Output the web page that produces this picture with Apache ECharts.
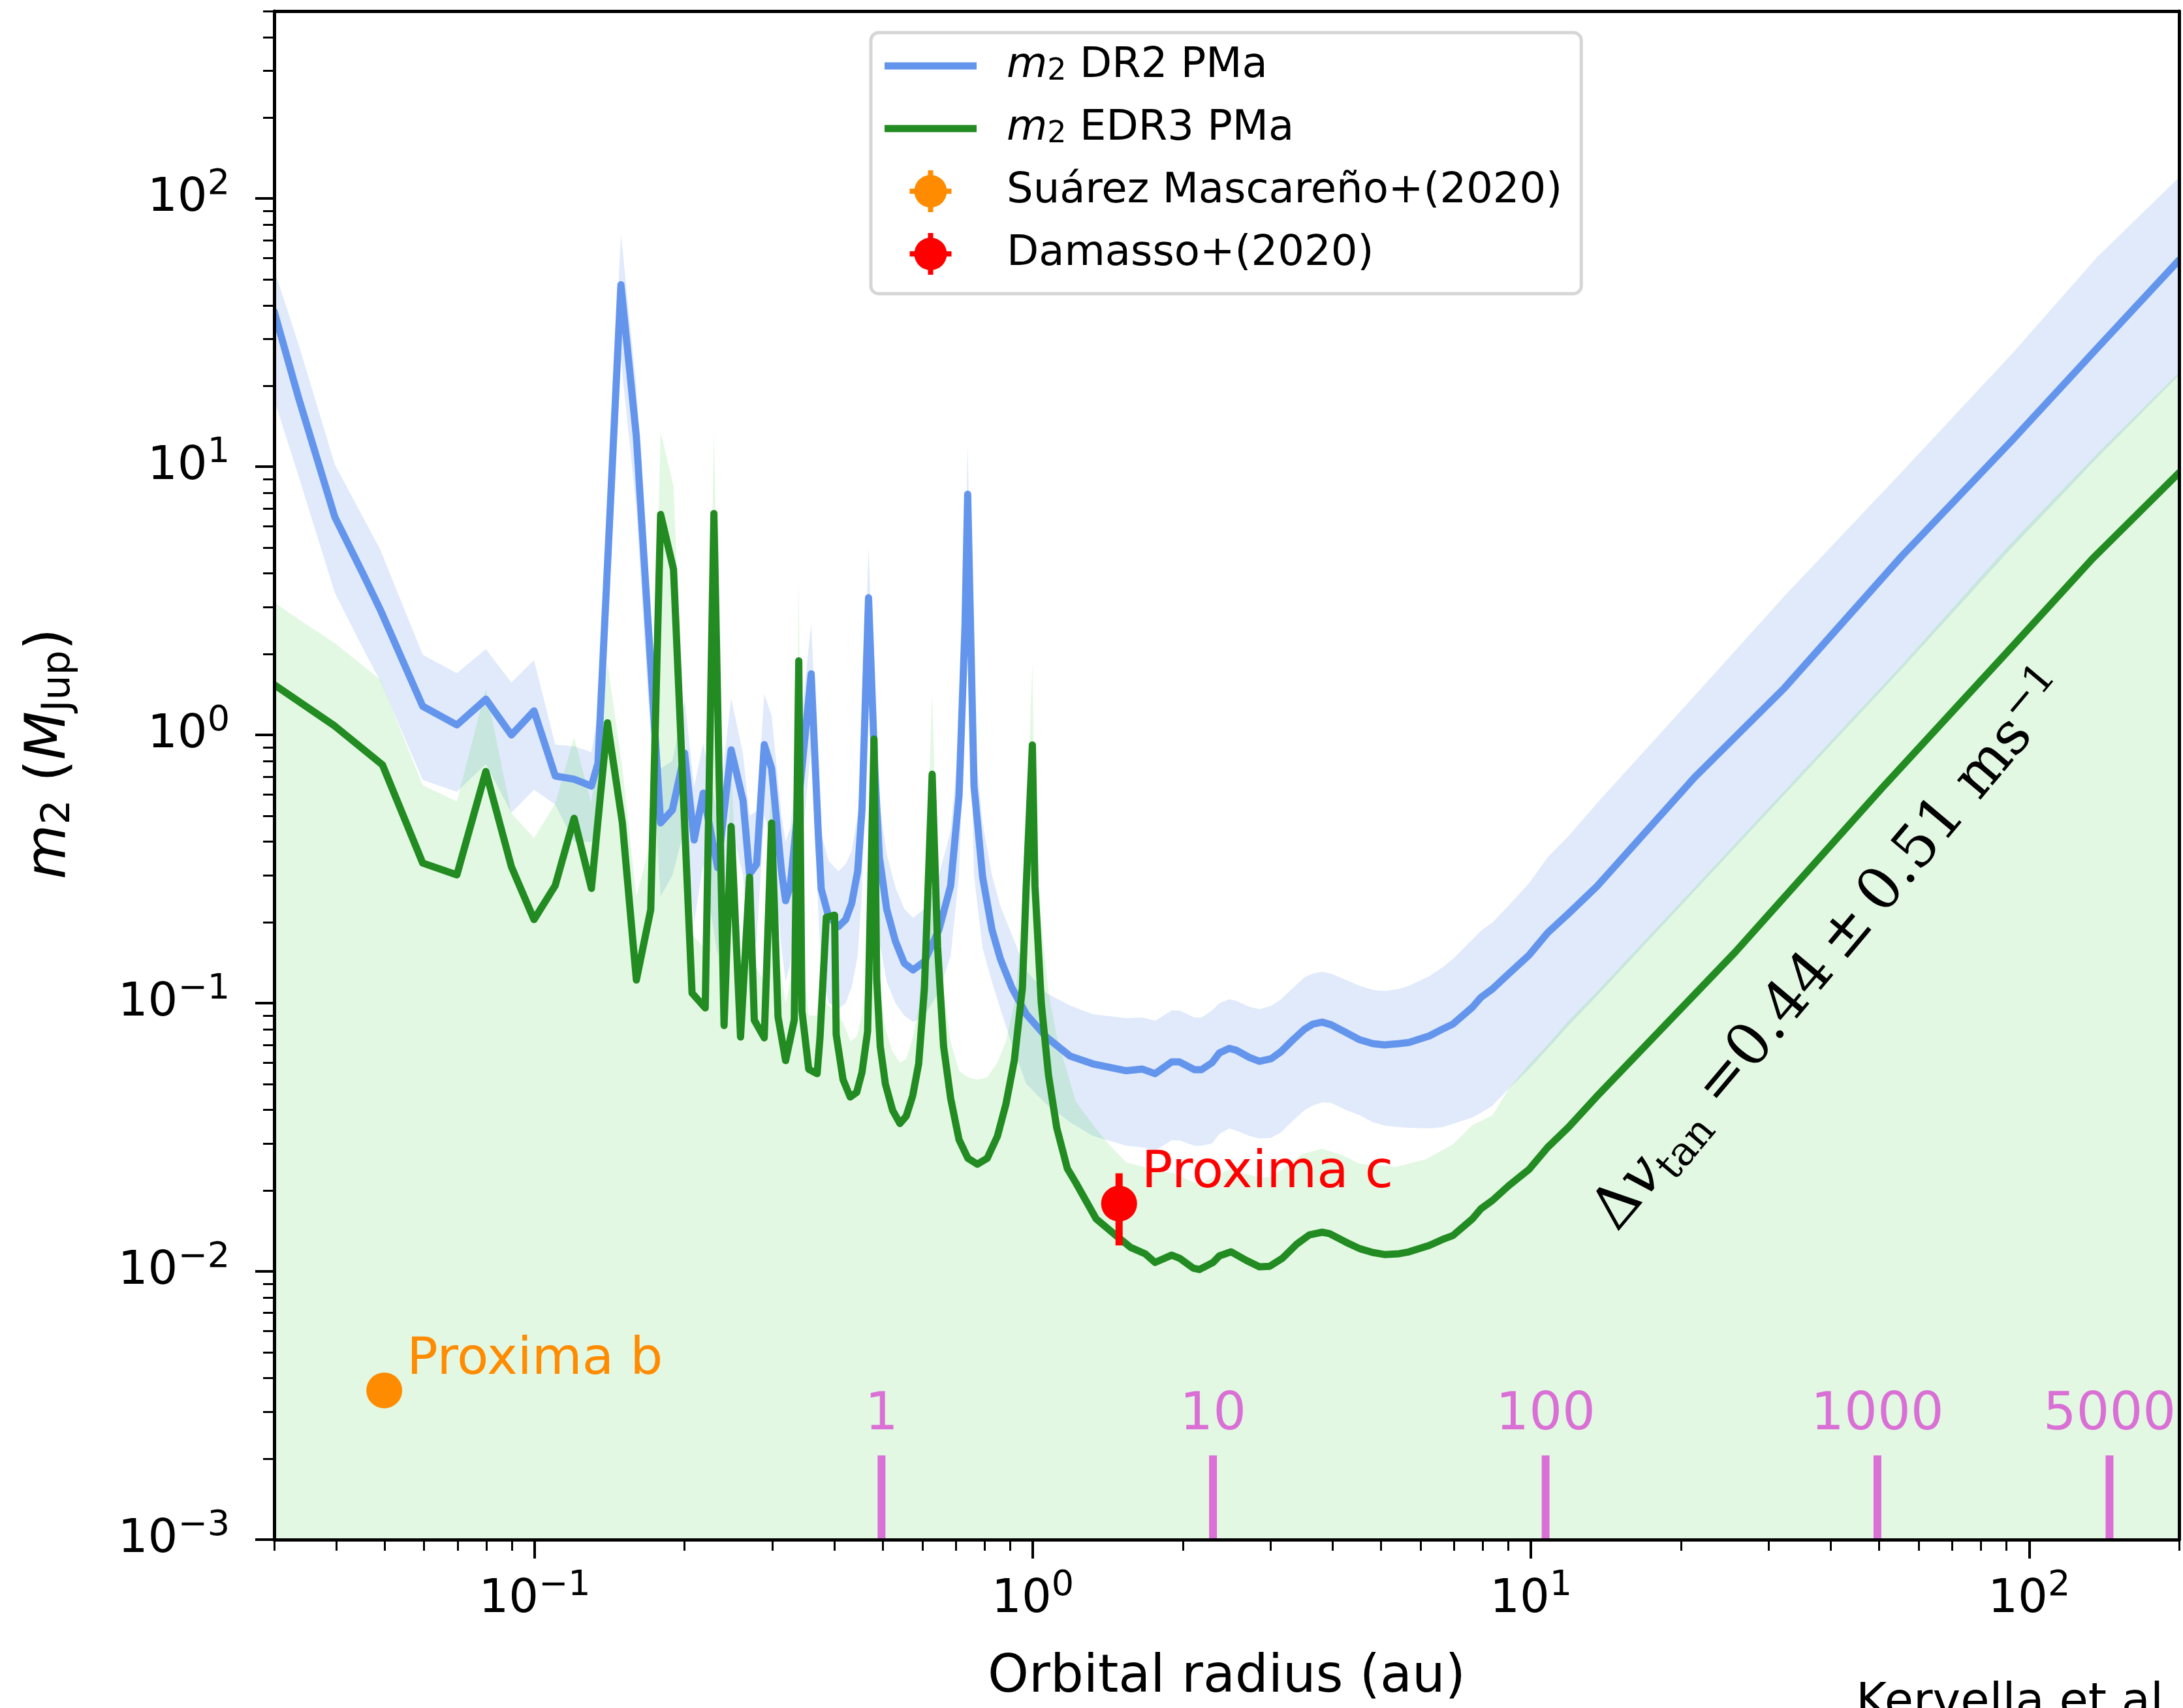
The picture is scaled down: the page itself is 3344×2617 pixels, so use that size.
<!DOCTYPE html>
<html>
<head>
<meta charset="utf-8">
<title>Companion mass sensitivity vs orbital radius</title>
<script src="https://cdn.jsdelivr.net/npm/echarts@6.0.0/dist/echarts.min.js"></script>
<style>
  html, body { margin: 0; padding: 0; background: #ffffff; }
  #chart { width: 3344px; height: 2617px; }
</style>
</head>
<body>
<div id="chart"></div>
<script>
// Gaia PMa companion mass sensitivity (radius in au, mass in M_Jup)

// DR2 PMa curve and its uncertainty band
const dr2Radius = [
  0.030, 0.0336, 0.0397, 0.0455, 0.049, 0.0596, 0.0698, 0.0798, 0.0898, 0.0997,
  0.110, 0.120, 0.130, 0.134, 0.149, 0.160, 0.179, 0.189, 0.200, 0.209,
  0.218, 0.233, 0.248, 0.262, 0.270, 0.279, 0.289, 0.299, 0.313, 0.319,
  0.326, 0.359, 0.371, 0.376, 0.389, 0.407, 0.421, 0.433, 0.445, 0.454,
  0.468, 0.482, 0.492, 0.509, 0.530, 0.552, 0.575, 0.606, 0.648, 0.684,
  0.711, 0.731, 0.740, 0.762, 0.793, 0.828, 0.861, 0.908, 0.970, 1.065,
  1.188, 1.32, 1.54, 1.66, 1.76, 1.90, 1.97, 2.11, 2.18, 2.29,
  2.37, 2.48, 2.56, 2.72, 2.85, 3.01, 3.15, 3.33, 3.51, 3.65,
  3.81, 3.97, 4.25, 4.53, 4.81, 5.08, 5.44, 5.69, 6.25, 6.64,
  6.97, 7.63, 7.93, 8.37, 9.03, 9.91, 10.8, 11.9, 13.6, 21.3,
  32.3, 55.6, 91.9, 137, 200
];
const dr2Mass = [
  37.9, 18.0, 6.5, 3.9, 2.93, 1.28, 1.09, 1.36, 1.0, 1.23,
  0.703, 0.684, 0.645, 0.785, 47.7, 13.0, 0.47, 0.525, 0.855, 0.406,
  0.607, 0.32, 0.88, 0.57, 0.303, 0.33, 0.92, 0.75, 0.31, 0.241,
  0.274, 1.69, 0.43, 0.267, 0.211, 0.193, 0.205, 0.236, 0.31, 0.525,
  3.25, 0.73, 0.35, 0.224, 0.17, 0.141, 0.133, 0.143, 0.188, 0.274,
  0.594, 2.57, 7.9, 0.645, 0.295, 0.188, 0.146, 0.114, 0.091, 0.0747,
  0.0635, 0.0594, 0.056, 0.0568, 0.0546, 0.0604, 0.0604, 0.0565, 0.0565, 0.060,
  0.0653, 0.0679, 0.0668, 0.0628, 0.0607, 0.0621, 0.066, 0.0731, 0.080, 0.0836,
  0.085, 0.0831, 0.0778, 0.0731, 0.0707, 0.0699, 0.0707, 0.0714, 0.0755, 0.080,
  0.0836, 0.0966, 0.105, 0.113, 0.129, 0.151, 0.183, 0.216, 0.274, 0.695,
  1.50, 4.66, 12.4, 27.7, 59
];
const dr2Upper = [
  54.3, 28.5, 10.2, 6.35, 4.91, 1.99, 1.70, 2.09, 1.57, 1.90,
  0.92, 0.907, 0.863, 1.2, 74, 20, 0.75, 0.8, 1.35, 0.64,
  0.93, 0.5, 1.37, 0.85, 0.5, 0.52, 1.42, 1.18, 0.5, 0.4,
  0.45, 2.62, 0.7, 0.43, 0.34, 0.31, 0.33, 0.37, 0.5, 0.85,
  5.03, 1.15, 0.56, 0.36, 0.27, 0.225, 0.208, 0.225, 0.3, 0.44,
  0.95, 4.0, 12.2, 1.0, 0.47, 0.3, 0.23, 0.18, 0.132, 0.109,
  0.098, 0.091, 0.088, 0.0885, 0.086, 0.094, 0.094, 0.0885, 0.0885, 0.094,
  0.100, 0.1035, 0.102, 0.097, 0.095, 0.0977, 0.1035, 0.114, 0.125, 0.129,
  0.131, 0.129, 0.122, 0.116, 0.112, 0.111, 0.113, 0.116, 0.126, 0.136,
  0.146, 0.173, 0.186, 0.20, 0.232, 0.28, 0.35, 0.42, 0.56, 1.4,
  3.3, 9.6, 26.1, 60.6, 120
];
const dr2Lower = [
  17.8, 9.2, 3.39, 2.06, 1.59, 0.68, 0.614, 0.78, 0.513, 0.625,
  0.55, 0.40, 0.40, 0.45, 25, 7, 0.25, 0.3, 0.45, 0.2,
  0.33, 0.15, 0.45, 0.3, 0.15, 0.17, 0.5, 0.4, 0.16, 0.12,
  0.14, 0.9, 0.22, 0.13, 0.1, 0.095, 0.1, 0.115, 0.15, 0.26,
  1.7, 0.38, 0.17, 0.12, 0.1, 0.09, 0.085, 0.09, 0.11, 0.15,
  0.3, 1.3, 4.0, 0.3, 0.16, 0.12, 0.095, 0.07, 0.05, 0.042,
  0.036, 0.032, 0.0294, 0.029, 0.0282, 0.0308, 0.0308, 0.0294, 0.0294, 0.030,
  0.0326, 0.0341, 0.0335, 0.032, 0.0313, 0.0315, 0.033, 0.0365, 0.0399, 0.0415,
  0.0427, 0.0425, 0.040, 0.0382, 0.036, 0.035, 0.0345, 0.0343, 0.0341, 0.0345,
  0.0355, 0.0375, 0.039, 0.0415, 0.048, 0.0568, 0.0676, 0.0826, 0.107, 0.262,
  0.60, 1.77, 4.95, 10.8, 22
];

// EDR3 PMa curve
const edr3Radius = [
  0.030, 0.0397, 0.0495, 0.0596, 0.0698, 0.0798, 0.0898, 0.0997, 0.110, 0.120,
  0.130, 0.140, 0.150, 0.160, 0.171, 0.179, 0.190, 0.202, 0.207, 0.220,
  0.229, 0.240, 0.248, 0.259, 0.270, 0.276, 0.289, 0.299, 0.308, 0.319,
  0.332, 0.339, 0.344, 0.355, 0.369, 0.374, 0.385, 0.400, 0.403, 0.416,
  0.430, 0.443, 0.454, 0.466, 0.480, 0.486, 0.494, 0.506, 0.523, 0.541,
  0.557, 0.574, 0.590, 0.606, 0.628, 0.644, 0.662, 0.684, 0.711, 0.741,
  0.774, 0.810, 0.849, 0.883, 0.918, 0.953, 0.970, 0.998, 1.01, 1.04,
  1.075, 1.117, 1.173, 1.22, 1.34, 1.47, 1.57, 1.68, 1.76, 1.90,
  1.97, 2.10, 2.16, 2.30, 2.37, 2.50, 2.68, 2.85, 2.99, 3.17,
  3.38, 3.59, 3.81, 3.94, 4.25, 4.53, 4.81, 5.08, 5.44, 5.69,
  6.25, 6.64, 6.97, 7.63, 7.93, 8.37, 9.03, 9.91, 10.8, 11.9,
  13.6, 25.7, 50.7, 90.2, 134, 200
];
const edr3Mass = [
  1.54, 1.08, 0.773, 0.333, 0.301, 0.731, 0.323, 0.205, 0.275, 0.489,
  0.268, 1.11, 0.47, 0.122, 0.223, 6.64, 4.15, 0.305, 0.109, 0.096,
  6.7, 0.0826, 0.456, 0.0748, 0.295, 0.0865, 0.0743, 0.47, 0.0889, 0.0611,
  0.0865, 1.89, 0.0935, 0.0567, 0.0546, 0.0748, 0.209, 0.213, 0.0764, 0.0519,
  0.0447, 0.0465, 0.0552, 0.0785, 0.966, 0.123, 0.069, 0.0499, 0.0399, 0.0356,
  0.0379, 0.0452, 0.0594, 0.114, 0.714, 0.162, 0.069, 0.0442, 0.031, 0.0264,
  0.0251, 0.0264, 0.0319, 0.042, 0.0611, 0.114, 0.274, 0.918, 0.274, 0.100,
  0.054, 0.0343, 0.0242, 0.0214, 0.0157, 0.0136, 0.0123, 0.01164, 0.0108, 0.0115,
  0.0112, 0.01028, 0.01016, 0.0108, 0.01143, 0.01183, 0.011, 0.0104, 0.01045, 0.0112,
  0.0126, 0.01368, 0.014, 0.01384, 0.01286, 0.01216, 0.01177, 0.01156, 0.01164, 0.01183,
  0.0125, 0.01315, 0.0136, 0.0157, 0.0171, 0.0184, 0.0209, 0.024, 0.029, 0.0345,
  0.0452, 0.155, 0.635, 2.03, 4.54, 9.5
];

// EDR3 band: filled from the bottom of the plot up to this upper bound
const edr3BandRadius = [
  0.030, 0.0336, 0.0397, 0.049, 0.0596, 0.0698, 0.0798, 0.0898, 0.0997, 0.110,
  0.120, 0.130, 0.140, 0.150, 0.160, 0.171, 0.179, 0.190, 0.202, 0.207,
  0.220, 0.229, 0.240, 0.248, 0.259, 0.270, 0.276, 0.289, 0.299, 0.308,
  0.319, 0.332, 0.339, 0.344, 0.355, 0.369, 0.374, 0.385, 0.400, 0.416,
  0.430, 0.443, 0.454, 0.466, 0.480, 0.486, 0.494, 0.506, 0.523, 0.541,
  0.557, 0.574, 0.590, 0.606, 0.628, 0.644, 0.662, 0.684, 0.711, 0.741,
  0.774, 0.810, 0.849, 0.883, 0.918, 0.953, 0.970, 0.998, 1.01, 1.04,
  1.075, 1.117, 1.173, 1.22, 1.34, 1.43, 1.54, 1.76, 1.92, 2.10,
  2.18, 2.30, 2.48, 2.85, 2.99, 3.17, 3.48, 3.81, 4.18, 4.53,
  5.35, 6.15, 6.97, 7.63, 8.37, 9.03, 9.91, 10.8, 11.9, 13.6,
  21.3, 34.8, 55.6, 90.2, 137, 200
];
const edr3BandUpper = [
  3.12, 2.70, 2.20, 1.61, 0.65, 0.565, 1.49, 0.51, 0.413, 0.556,
  0.98, 0.556, 1.86, 0.75, 0.25, 0.4, 13.5, 8.45, 0.5, 0.18,
  0.16, 13.8, 0.14, 0.75, 0.13, 0.48, 0.14, 0.12, 0.75, 0.15,
  0.1, 0.14, 3.81, 0.15, 0.09, 0.09, 0.12, 0.1, 0.093, 0.085,
  0.072, 0.075, 0.09, 0.13, 1.6, 0.2, 0.11, 0.08, 0.066, 0.06,
  0.062, 0.074, 0.097, 0.19, 1.44, 0.27, 0.11, 0.072, 0.056, 0.053,
  0.0519, 0.053, 0.06, 0.072, 0.1, 0.19, 0.45, 1.86, 0.45, 0.2,
  0.11, 0.075, 0.055, 0.043, 0.034, 0.0294, 0.0255, 0.0239, 0.0232, 0.0215,
  0.0213, 0.0224, 0.024, 0.0224, 0.0224, 0.024, 0.0274, 0.0287, 0.0271, 0.0252,
  0.0245, 0.0262, 0.0298, 0.0351, 0.0382, 0.048, 0.059, 0.07, 0.086, 0.111,
  0.27, 0.72, 1.83, 5.0, 11.2, 22.5
];

// known planets
const planetNames = ['Proxima b', 'Proxima c'];
const planetRefs = ['Suárez Mascareño+(2020)', 'Damasso+(2020)'];
const planetRadius = [0.0499, 1.49];
const planetMass = [0.0036, 0.0179];
const planetMassLo = [0.0035, 0.0125];
const planetMassHi = [0.0037, 0.0232];

// orbital period markers (years) and their radius
const periodLabels = ['1', '10', '100', '1000', '5000'];
const periodRadius = [0.497, 2.30, 10.7, 49.6, 145];

// decade tick exponents
const xMajorExp = [-1, 0, 1, 2];
const yMajorExp = [-3, -2, -1, 0, 1, 2];

const lg = Math.log10;
const FONT = 'DejaVu Sans';
const BLUE = '#6495ED';
const GREEN = '#228B22';
const PLANET_COLORS = ['#FF8C00', '#FF0000'];
const ORCHID = '#DA70D6';
const LINE_W = 11;

// legend handles: flat bar for the curves, dot with error-bar stubs for the planets
const BAR_ICON = 'path://M0,0H141V11H0Z';
const DOT_ICON = 'path://M7,32A25,25,0,1,1,57,32A25,25,0,1,1,7,32Z' +
  'M0,28H8V36H0Z M56,28H64V36H56Z M28,0H36V8H28Z M28,56H36V64H28Z';

const xMin = lg(0.03), xMax = lg(200);
const yMin = -3, yMax = lg(500);

function minorTicks(lo, hi) {
  const out = [];
  for (let e = Math.floor(lo); e <= Math.ceil(hi); e++) {
    for (let k = 2; k <= 9; k++) {
      const v = e + lg(k);
      if (v >= lo - 1e-9 && v <= hi + 1e-9) out.push(v);
    }
  }
  return out;
}

const pairs = (xs, ys) => xs.map((x, i) => [lg(x), lg(ys[i])]);
const powLabel = v => '{b|10}{s|' + String(Math.round(v)).replace('-', '\u2212') + '}';

const tickRich = {
  b: { fontFamily: FONT, fontSize: 72, lineHeight: 96, color: '#000' },
  s: { fontFamily: FONT, fontSize: 54, lineHeight: 54, verticalAlign: 'top', color: '#000' }
};
const frameLine = { show: true, onZero: false, lineStyle: { color: '#000', width: 5 } };
const noLine = { show: false, onZero: false };

// curve drawn through the axes' own coordinate mapping
function curveSeries(name, xs, ys, color) {
  return {
    name, type: 'custom', z: 3, silent: true, clip: true,
    data: [[lg(xs[0]), lg(ys[0])]],
    renderItem: (params, api) => ({
      type: 'polyline',
      shape: { points: xs.map((x, i) => api.coord([lg(x), lg(ys[i])])) },
      style: { stroke: color, lineWidth: LINE_W, fill: null, lineJoin: 'round', lineCap: 'round' }
    })
  };
}

const chart = echarts.init(document.getElementById('chart'));

const option = {
  animation: false,
  backgroundColor: '#ffffff',
  grid: { left: 420, right: 6, top: 17, bottom: 258, containLabel: false },
  legend: {
    left: 1334,
    top: 50,
    orient: 'vertical',
    selectedMode: false,
    itemWidth: 141,
    itemHeight: 64,
    itemGap: 32,
    padding: [19, 29, 29, 21],
    backgroundColor: '#ffffff',
    borderColor: '#d6d6d6',
    borderWidth: 5,
    borderRadius: 12,
    data: [
      { name: 'DR2', icon: BAR_ICON, itemStyle: { color: BLUE } },
      { name: 'EDR3', icon: BAR_ICON, itemStyle: { color: GREEN } },
      { name: planetRefs[0], icon: DOT_ICON },
      { name: planetRefs[1], icon: DOT_ICON }
    ],
    formatter: name => {
      if (name === 'DR2') return '{i|m}{s|2} DR2 PMa';
      if (name === 'EDR3') return '{i|m}{s|2} EDR3 PMa';
      return name;
    },
    textStyle: {
      fontFamily: FONT, fontSize: 64, lineHeight: 64, color: '#000',
      padding: [0, 0, 0, 41],
      rich: {
        i: { fontFamily: FONT, fontSize: 64, lineHeight: 64, fontStyle: 'italic', color: '#000' },
        s: { fontFamily: FONT, fontSize: 46, lineHeight: 28, verticalAlign: 'bottom', color: '#000' }
      }
    }
  },
  xAxis: [
    {
      type: 'value', min: xMin, max: xMax, position: 'bottom', z: 10,
      axisLine: frameLine,
      axisTick: { show: true, customValues: xMajorExp, length: 29, lineStyle: { color: '#000', width: 4 } },
      axisLabel: { show: true, customValues: xMajorExp, margin: 44, formatter: powLabel, rich: tickRich },
      splitLine: { show: false },
      name: 'Orbital radius (au)',
      nameLocation: 'middle',
      nameGap: 172,
      nameTextStyle: { fontFamily: FONT, fontSize: 80, color: '#000' }
    },
    {
      type: 'value', min: xMin, max: xMax, position: 'bottom', z: 10,
      axisLine: noLine,
      axisTick: { show: true, customValues: minorTicks(xMin, xMax), length: 17, lineStyle: { color: '#000', width: 3 } },
      axisLabel: { show: false },
      splitLine: { show: false }
    },
    {
      type: 'value', min: xMin, max: xMax, position: 'top', z: 10,
      axisLine: frameLine, axisTick: { show: false }, axisLabel: { show: false }, splitLine: { show: false }
    }
  ],
  yAxis: [
    {
      type: 'value', min: yMin, max: yMax, position: 'left', z: 10,
      axisLine: frameLine,
      axisTick: { show: true, customValues: yMajorExp, length: 29, lineStyle: { color: '#000', width: 4 } },
      axisLabel: { show: true, customValues: yMajorExp, margin: 68, formatter: powLabel, rich: tickRich },
      splitLine: { show: false },
      name: '{i|m}{s|2}{n| (}{i|M}{s|Jup}{n|)}',
      nameLocation: 'middle',
      nameRotate: 90,
      nameGap: 300,
      nameTextStyle: {
        fontFamily: FONT, fontSize: 86, color: '#000',
        padding: [0, 0, 0, 66],
        rich: {
          i: { fontFamily: FONT, fontSize: 86, lineHeight: 86, fontStyle: 'italic', color: '#000' },
          n: { fontFamily: FONT, fontSize: 86, lineHeight: 86, color: '#000' },
          s: { fontFamily: FONT, fontSize: 60, lineHeight: 38, verticalAlign: 'bottom', color: '#000' }
        }
      }
    },
    {
      type: 'value', min: yMin, max: yMax, position: 'left', z: 10,
      axisLine: noLine,
      axisTick: { show: true, customValues: minorTicks(yMin, yMax), length: 17, lineStyle: { color: '#000', width: 3 } },
      axisLabel: { show: false },
      splitLine: { show: false }
    },
    {
      type: 'value', min: yMin, max: yMax, position: 'right', z: 10,
      axisLine: frameLine, axisTick: { show: false }, axisLabel: { show: false }, splitLine: { show: false }
    }
  ],
  series: [
    {
      name: 'DR2 band', type: 'custom', z: 1, silent: true, clip: true,
      data: [[lg(dr2Radius[0]), lg(dr2Mass[0])]],
      renderItem: (params, api) => {
        const top = dr2Radius.map((r, i) => api.coord([lg(r), lg(dr2Upper[i])]));
        const bottom = dr2Radius.map((r, i) => api.coord([lg(r), lg(dr2Lower[i])])).reverse();
        return {
          type: 'polygon',
          shape: { points: top.concat(bottom) },
          style: { fill: 'rgba(100,149,237,0.2)' }
        };
      }
    },
    {
      name: 'EDR3 band', type: 'line', z: 2, silent: true, clip: true,
      data: pairs(edr3BandRadius, edr3BandUpper),
      showSymbol: false, symbol: 'none',
      lineStyle: { width: 0 },
      areaStyle: { color: 'rgba(50,205,50,0.2)', origin: 'start' }
    },
    curveSeries('DR2', dr2Radius, dr2Mass, BLUE),
    curveSeries('EDR3', edr3Radius, edr3Mass, GREEN),
    {
      name: 'error bars', type: 'custom', z: 4, silent: true,
      data: planetRadius.map((r, i) => [lg(r), lg(planetMassLo[i]), lg(planetMassHi[i]), i]),
      renderItem: (params, api) => {
        const a = api.coord([api.value(0), api.value(1)]);
        const b = api.coord([api.value(0), api.value(2)]);
        return {
          type: 'line',
          shape: { x1: a[0], y1: a[1], x2: b[0], y2: b[1] },
          style: { stroke: PLANET_COLORS[api.value(3)], lineWidth: 11 }
        };
      }
    },
    ...planetRefs.map((ref, i) => ({
      name: ref, type: 'scatter', z: 5, silent: true,
      data: [[lg(planetRadius[i]), lg(planetMass[i])]],
      symbol: 'circle', symbolSize: 55,
      itemStyle: { color: PLANET_COLORS[i], opacity: 1 },
      label: {
        show: true, position: 'right', distance: 7, offset: [0, -46],
        formatter: planetNames[i],
        color: PLANET_COLORS[i], fontFamily: FONT, fontSize: 79
      }
    })),
    {
      name: 'periods', type: 'custom', z: 6, silent: true, clip: false,
      data: periodRadius.map((r, i) => [lg(r), yMin, i]),
      renderItem: (params, api) => {
        const p = api.coord([api.value(0), api.value(1)]);
        return {
          type: 'group',
          children: [
            { type: 'line', shape: { x1: p[0], y1: p[1], x2: p[0], y2: p[1] - 129 },
              style: { stroke: ORCHID, lineWidth: 12 } },
            { type: 'text', x: p[0], y: p[1] - 190,
              style: { text: periodLabels[api.value(2)], fill: ORCHID,
                       font: '80px "DejaVu Sans"', align: 'center', verticalAlign: 'middle' } }
          ]
        };
      }
    }
  ],
  graphic: [
    {
      type: 'text', x: 2808, y: 1458, rotation: 50 * Math.PI / 180, z: 20, silent: true,
      style: {
        text: '{d|\u0394}{v|v}{t|tan}{d| =0.44\u2009\u00b1\u20090.51 ms}{p|\u22121}',
        align: 'center', verticalAlign: 'middle',
        rich: {
          d: { fontFamily: 'DejaVu Serif', fontSize: 90, lineHeight: 110, fill: '#000' },
          v: { fontFamily: 'DejaVu Serif', fontSize: 90, lineHeight: 110, fontStyle: 'italic', fill: '#000' },
          t: { fontFamily: 'DejaVu Serif', fontSize: 62, lineHeight: 64, verticalAlign: 'bottom', fill: '#000' },
          p: { fontFamily: 'DejaVu Serif', fontSize: 62, lineHeight: 62, verticalAlign: 'top', fill: '#000' }
        }
      }
    },
    {
      type: 'text', x: 2843, y: 2574, z: 20, silent: true,
      style: { text: 'Kervella et al', font: '72px "DejaVu Sans"', fill: '#000', align: 'left', verticalAlign: 'top' }
    }
  ]
};

chart.setOption(option);
</script>
</body>
</html>
